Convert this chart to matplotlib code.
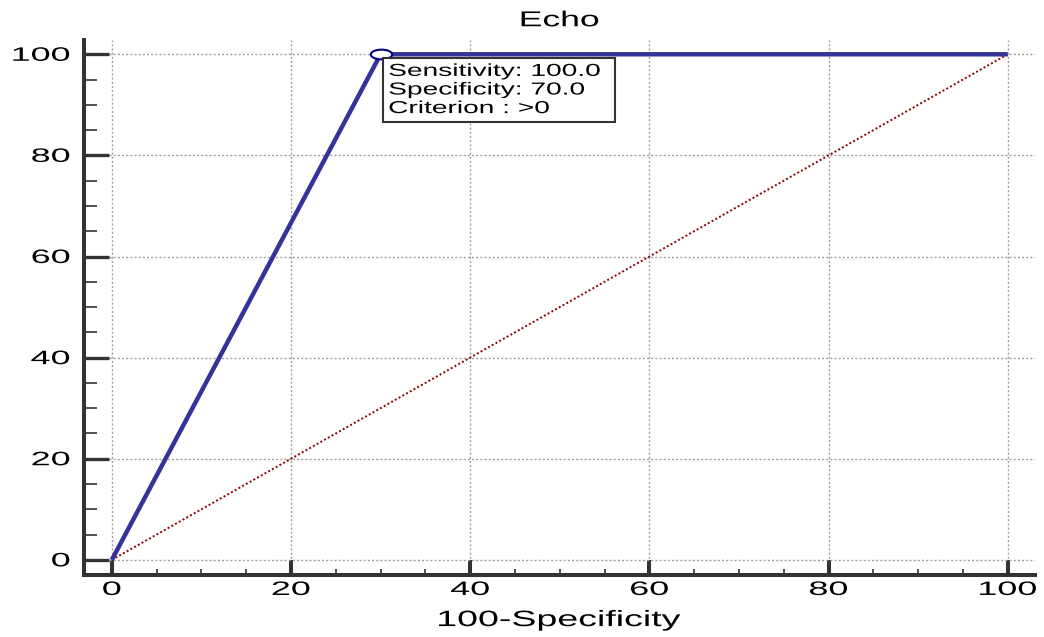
import matplotlib
matplotlib.use("Agg")
import matplotlib.pyplot as plt
from matplotlib.ticker import MultipleLocator
from matplotlib.patheffects import AbstractPathEffect
from matplotlib.markers import MarkerStyle
from matplotlib.transforms import Affine2D

# ROC curve for "Echo"
fpr = [0, 30, 100]          # 100 - specificity
tpr = [0, 100, 100]         # sensitivity
diag_x = [0, 100]
diag_y = [0, 100]
best_x = [30]
best_y = [100]
info_lines = ["Sensitivity: 100.0", "Specificity: 70.0", "Criterion : >0"]


class HStretch(AbstractPathEffect):
    # widens text horizontally around a fixed edge, like the original's wide font
    def __init__(self, sx, anchor='center'):
        super().__init__()
        self.sx = sx
        self.anchor = anchor

    def draw_path(self, renderer, gc, tpath, affine, rgbFace=None):
        ext = tpath.get_extents()
        if self.anchor == 'left':
            x0 = ext.x0
        elif self.anchor == 'right':
            x0 = ext.x1
        else:
            x0 = (ext.x0 + ext.x1) / 2
        t = Affine2D().translate(-x0, 0).scale(self.sx, 1).translate(x0, 0) + affine
        renderer.draw_path(gc, tpath, t, rgbFace)


plt.rcParams['font.family'] = ['Liberation Sans', 'DejaVu Sans']

fig = plt.figure(figsize=(10.44, 6.37), dpi=100)
ax = fig.add_axes([0.0805, 0.0973, 0.9105, 0.8397])

ax.set_xlim(-3.1, 103)
ax.set_ylim(-3, 102.8)

ax.grid(True, which='major', color='#a0a0a0', linestyle=(0, (1.5, 1.5)), linewidth=1.0)
ax.set_axisbelow(True)

ax.plot(diag_x, diag_y, color='#8b0000', linestyle=(0, (1, 1.2)), linewidth=1.4)
ax.plot(fpr, tpr, color='#333399', linewidth=3.2, solid_capstyle='butt')
ax.plot(best_x, best_y, marker=MarkerStyle('o', transform=Affine2D().scale(2.2, 1)),
        markersize=7, markerfacecolor='white', markeredgecolor='#000080',
        markeredgewidth=1.5, linestyle='none', zorder=5)

box = ax.text(best_x[0] + 0.9, best_y[0] - 1.9, "\n".join(info_lines),
              ha='left', va='top', fontsize=12.5, linespacing=1.3, zorder=6,
              bbox=dict(boxstyle='square,pad=0.35', facecolor='white',
                        edgecolor='#333333', linewidth=1.5))
box.set_path_effects([HStretch(1.62, 'left')])
box.get_bbox_patch().set_path_effects([HStretch(1.62, 'left')])

for side in ['top', 'right']:
    ax.spines[side].set_visible(False)
for side in ['left', 'bottom']:
    ax.spines[side].set_color('#333333')
    ax.spines[side].set_linewidth(2.9)

ax.xaxis.set_major_locator(MultipleLocator(20))
ax.xaxis.set_minor_locator(MultipleLocator(5))
ax.yaxis.set_major_locator(MultipleLocator(20))
ax.yaxis.set_minor_locator(MultipleLocator(5))

ax.tick_params(axis='x', which='major', direction='in', length=10.8, width=2.9,
               color='#333333', labelsize=14, pad=5)
ax.tick_params(axis='x', which='minor', direction='in', length=4, width=1.2,
               color='#333333')
ax.tick_params(axis='y', which='major', direction='in', length=18, width=2.4,
               color='#333333', labelsize=14, pad=10)
ax.tick_params(axis='y', which='minor', direction='in', length=9.5, width=1.2,
               color='#333333')

for lab in ax.get_xticklabels():
    lab.set_path_effects([HStretch(1.85, 'center')])
for lab in ax.get_yticklabels():
    lab.set_path_effects([HStretch(1.85, 'right')])

title = ax.set_title("Echo", fontsize=15.5, pad=10)
title.set_path_effects([HStretch(1.65, 'center')])
xlab = ax.set_xlabel("100-Specificity", fontsize=16, labelpad=8)
xlab.set_path_effects([HStretch(1.69, 'center')])

fig.savefig("out.png", dpi=100)
